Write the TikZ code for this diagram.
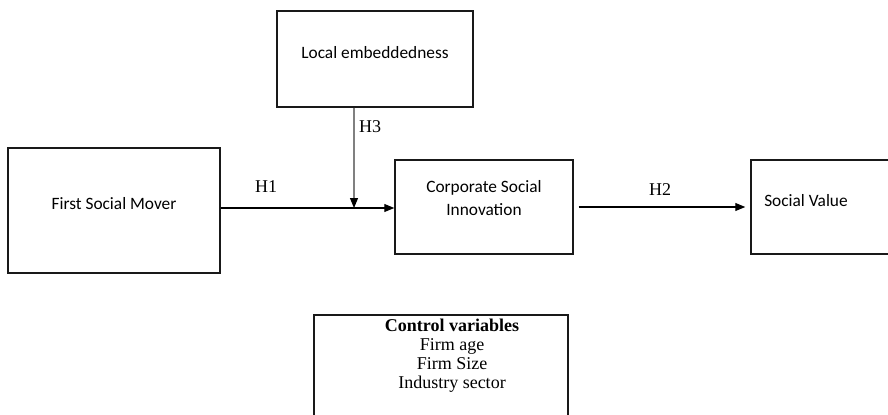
\documentclass[tikz,border=0pt]{standalone}
\usepackage{fontspec}
\setmainfont{Liberation Serif}
\newfontfamily\boxfont{Carlito}
\usetikzlibrary{arrows.meta}
\tikzset{
  px/.style={x=0.75pt,y=-0.75pt},
  box/.style={draw=black!90,line width=1.1pt,rectangle,inner sep=0pt},
  boxtxt/.style={font=\boxfont\fontsize{13}{17.25}\selectfont,align=center,inner sep=0pt},
  hlbl/.style={font=\fontsize{13.5}{15}\selectfont,inner sep=0pt},
  arr/.style={line width=0.8pt,-{Triangle[length=7.5pt,width=6pt]}},
}
\begin{document}
\begin{tikzpicture}[px]
\useasboundingbox (0,0) rectangle (888,414);
% boxes
\node[box,minimum width=196*0.75pt,minimum height=96*0.75pt] (le) at (375,59) {};
\node[boxtxt] (let) at (375,53) {Local embeddedness};
\node[box,minimum width=212*0.75pt,minimum height=125*0.75pt] (fsm) at (114,210.5) {};
\node[boxtxt] (fsmt) at (114,204) {First Social Mover};
\node[box,minimum width=178*0.75pt,minimum height=94*0.75pt] (csi) at (484,207) {};
\node[boxtxt] (csit) at (484,198.5) {Corporate Social\\Innovation};
\node[box,minimum width=142*0.75pt,minimum height=94*0.75pt] (sv) at (822,207) {};
\node[boxtxt] (svt) at (806,201) {Social Value};
% control variables box (bottom cut off)
\node[box,minimum width=254*0.75pt,minimum height=120*0.75pt] (cv) at (441,375) {};
\node[font=\fontsize{13.5}{14.25}\selectfont,align=center,inner sep=0pt,anchor=north] (cvt) at (452,319)
  {\textbf{Control variables}\\Firm age\\Firm Size\\Industry sector};
% connectors
\coordinate (j) at (354,208);
\draw[arr] (fsm.east |- j) -- (csi.west |- j);
\draw[line width=0.8pt,draw=black!50,-{Triangle[length=7.5pt,width=6pt,color=black]}] (le.south -| j) -- (j);
\draw[arr,shorten <=5*0.75pt,shorten >=5*0.75pt] (csi.east) -- (sv.west);
% labels
\node[hlbl] (h1) at (266,187) {H1};
\node[hlbl] (h3) at (370,127) {H3};
\node[hlbl] (h2) at (660,190) {H2};
\end{tikzpicture}
\end{document}
